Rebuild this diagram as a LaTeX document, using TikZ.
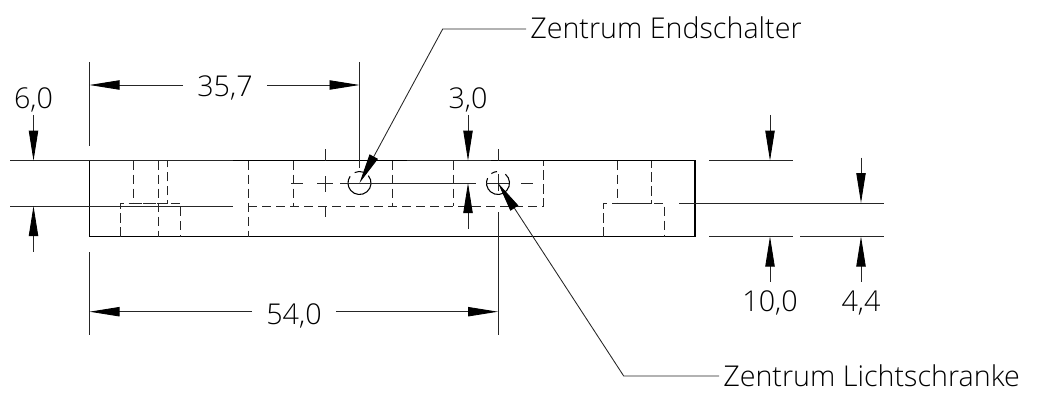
\documentclass[tikz,border=0pt]{standalone}
\usepackage{fontspec}
\setmainfont{Open Sans Light}
\usetikzlibrary{arrows.meta}
\tikzset{>={Triangle[length=22.5pt,width=7pt,color=black]}}
\tikzset{
    body/.style={line width=0.8pt},
    thin line/.style={line width=0.65pt, black!85},
    hidden/.style={line width=0.75pt, black!85, dash pattern=on 7pt off 3.5pt},
    dimtext/.style={anchor=base, inner sep=0pt, inner xsep=10.5pt, font=\fontsize{21.5}{24}\selectfont},
    notetext/.style={anchor=base west, inner sep=0pt, inner xsep=3pt, font=\fontsize{21.5}{24}\selectfont}
}

\begin{document}
\begin{tikzpicture}[x=0.75pt, y=-0.75pt]
    \useasboundingbox (0,0) rectangle (1037,392);

    % points
    \coordinate (ObenL) at (89.5,160.7);
    \coordinate (ObenR) at (695,160.7);
    \coordinate (UntenR) at (695,236.5);
    \coordinate (UntenL) at (89.5,236.5);
    \coordinate (LochA) at (359.5,183);
    \coordinate (LochB) at (498,183);
    \coordinate (KreuzM) at (325,183);

    % labels
    \node[dimtext] (lblA) at (225,97) {35,7};
    \node[dimtext] (lblB) at (294,324) {54,0};
    \node[dimtext] (lblC) at (33.5,109) {6,0};
    \node[dimtext] (lblD) at (468,109) {3,0};
    \node[dimtext] (lblE) at (770,311.5) {10,0};
    \node[dimtext] (lblF) at (861,311.5) {4,4};
    \node[notetext] (lblEnd) at (526,39) {Zentrum Endschalter};
    \node[notetext] (lblLicht) at (719,386) {Zentrum Lichtschranke};

    % body
    \draw[body] (ObenL) -- (ObenR) -- (UntenR) -- (UntenL) -- cycle;

    % hidden edges
    \draw[hidden] (133,160.7) -- (133,203) -- (167,203) -- (167,160.7);
    \draw[hidden] (120,236.5) -- (120,203) -- (180.5,203) -- (180.5,236.5);
    \draw[hidden] (158,160.7) -- (158,236.5);
    \draw[hidden] (248,160.7) -- (248,236.5);
    \draw[hidden] (248,206) -- (543.5,206) -- (543.5,160.7);
    \draw[hidden] (293,160.7) -- (293,206);
    \draw[hidden] (392,160.7) -- (392,206);
    \draw[hidden] (453,160.7) -- (453,206);
    \draw[hidden] (617,160.7) -- (617,203) -- (651.5,203) -- (651.5,160.7);
    \draw[hidden] (603.5,236.5) -- (603.5,203) -- (664.5,203) -- (664.5,236.5);

    % holes
    \draw[body] (LochA) ++(-40:11.5) arc (-40:215:11.5);
    \draw[body] (LochA) ++(245:11.5) arc (245:290:11.5);
    \draw[body] (LochB) ++(-50:11.5) arc (-50:205:11.5);
    \draw[body] (LochB) ++(235:11.5) arc (235:265:11.5);

    % center marks
    \draw[thin line] (325,149) -- (325,161);
    \draw[thin line] (325,176) -- (325,191.5);
    \draw[thin line] (325,206) -- (325,217);
    \draw[thin line] (291,183) -- (303,183);
    \draw[thin line] (317,183) -- (333,183);
    \draw[thin line] (340,183) -- (476,183);
    \draw[thin line] (498,149) -- (498,161);
    \draw[thin line] (498,174) -- (498,191);
    \draw[thin line] (486,183) -- (509,183);
    \draw[thin line] (521,183) -- (533,183);

    % extension lines
    \draw[thin line] (10,160.7) -- (233,160.7);
    \draw[thin line] (10,206) -- (233,206);
    \draw[thin line] (407,160.7) -- (491,160.7);
    \draw[thin line] (679,203) -- (884,203);
    \draw[thin line] (709,160.7) -- (793,160.7);
    \draw[thin line] (709,236.5) -- (793,236.5);
    \draw[thin line] (800,236.5) -- (884,236.5);
    \draw[thin line] (89.5,62) -- (89.5,146);
    \draw[thin line] (359.5,62) -- (359.5,168);
    \draw[thin line] (89.5,252) -- (89.5,335);
    \draw[thin line] (498,212) -- (498,335);

    % dimension arrows
    \coordinate (tipAl) at (89.5,85);
    \coordinate (tipAr) at (359.5,85);
    \draw[thin line, ->] (lblA.west |- tipAl) -- (tipAl);
    \draw[thin line, ->] (lblA.east |- tipAr) -- (tipAr);
    \coordinate (tipBl) at (89.5,311.7);
    \coordinate (tipBr) at (498,311.7);
    \draw[thin line, ->] (lblB.west |- tipBl) -- (tipBl);
    \draw[thin line, ->] (lblB.east |- tipBr) -- (tipBr);
    \draw[thin line, ->] (33.5,115) -- (33.5,160.7);
    \draw[thin line, ->] (33.5,251.7) -- (33.5,206);
    \draw[thin line, ->] (468,115) -- (468,160.7);
    \draw[thin line, ->] (468,229) -- (468,183);
    \draw[thin line, ->] (770,115) -- (770,160.7);
    \draw[thin line, ->] (770,281.7) -- (770,236.5);
    \draw[thin line, ->] (861,157.7) -- (861,203);
    \draw[thin line, ->] (861,281.7) -- (861,236.5);

    % leaders
    \coordinate (KnickA) at (442.7,29);
    \coordinate (KnickB) at (623.7,376);
    \draw[thin line, ->] (lblEnd.west |- KnickA) -- (KnickA) -- (LochA);
    \draw[thin line, ->] (lblLicht.west |- KnickB) -- (KnickB) -- (LochB);
\end{tikzpicture}
\end{document}
